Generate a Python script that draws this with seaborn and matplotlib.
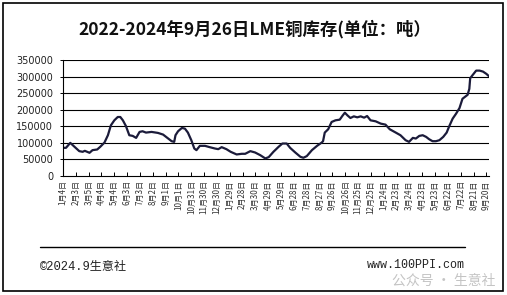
import matplotlib
matplotlib.use("Agg")
import matplotlib.pyplot as plt
from matplotlib.patches import Rectangle
from matplotlib.lines import Line2D
import seaborn as sns
import pandas as pd
import numpy as np

# ---- data ----
start_date = "2022-01-04"
days_since_start = [0, 7, 17, 27, 38, 46, 51, 62, 69, 80, 87, 97, 105, 112, 120, 128, 134, 140, 147, 155,
                    163, 171, 179, 186, 194, 207, 222, 234, 246, 254, 260, 263, 269, 278, 285, 292, 300,
                    307, 312, 320, 332, 343, 355, 363, 371, 382, 392, 406, 418, 426, 438, 449, 461, 473,
                    481, 492, 504, 513, 523, 531, 543, 555, 562, 570, 582, 594, 605, 608, 612, 620, 628,
                    637, 647, 653, 659, 665, 672, 680, 688, 696, 704, 711, 719, 731, 743, 754, 764, 778,
                    789, 801, 809, 818, 825, 833, 841, 849, 856, 864, 872, 880, 889, 897, 903, 911, 919,
                    927, 934, 942, 946, 950, 952, 958, 966, 974, 982, 990, 996]
stock_tons = [85000, 85000, 100000, 88000, 75000, 73000, 76000, 70000, 78000, 80000, 88000, 101000, 123000,
              153000, 168000, 178000, 178000, 168000, 151000, 123000, 121000, 115000, 133000, 135000, 131000,
              133000, 130000, 125000, 113000, 105000, 103000, 123000, 135000, 145000, 143000, 131000, 108000,
              83000, 78000, 91000, 91000, 87000, 83000, 81000, 87000, 81000, 73000, 65000, 67000, 67000,
              75000, 71000, 63000, 53000, 57000, 73000, 88000, 98000, 98000, 85000, 71000, 58000, 55000,
              60000, 78000, 91000, 101000, 105000, 131000, 141000, 163000, 168000, 170000, 181000, 191000,
              183000, 175000, 180000, 177000, 180000, 176000, 181000, 168000, 165000, 158000, 155000, 141000,
              131000, 123000, 108000, 103000, 115000, 113000, 121000, 123000, 118000, 111000, 105000, 105000,
              108000, 118000, 131000, 150000, 173000, 188000, 205000, 233000, 241000, 245000, 263000, 295000,
              305000, 318000, 318000, 315000, 308000, 301000]

x_tick_labels = ["1月4日", "2月3日", "3月5日", "4月4日", "5月4日", "6月3日", "7月3日", "8月2日", "9月1日",
                 "10月1日", "10月31日", "11月30日", "12月30日", "1月29日", "2月28日", "3月30日", "4月29日",
                 "5月29日", "6月28日", "7月28日", "8月27日", "9月26日", "10月26日", "11月25日", "12月25日",
                 "1月24日", "2月23日", "3月24日", "4月23日", "5月23日", "6月22日", "7月22日", "8月21日",
                 "9月20日"]
y_ticks = [0, 50000, 100000, 150000, 200000, 250000, 300000, 350000]
y_tick_labels = ["0", "50000", "100000", "150000", "200000", "250000", "300000", "350000"]

title = "2022-2024年9月26日LME铜库存(单位：吨）"
footer_left = "©2024.9生意社"
footer_right = "www.100PPI.com"
watermark = "公众号 · 生意社"

# ---- build ----
start = pd.Timestamp(start_date)
df = pd.DataFrame({
    "date": start + pd.to_timedelta(days_since_start, unit="D"),
    "stock": stock_tons,
})
tick_dates = [start + pd.Timedelta(days=30 * i) for i in range(len(x_tick_labels))]

sns.set_theme(style="white")
plt.rcParams["font.family"] = ["Noto Sans CJK SC", "DejaVu Sans"]

W, H = 507, 295
fig = plt.figure(figsize=(W / 100, H / 100), dpi=100)
fig.patch.set_facecolor("white")

L, R, T, B = 63, 489, 60, 176
ax = fig.add_axes([L / W, 1 - B / H, (R - L) / W, (B - T) / H])

sns.lineplot(data=df, x="date", y="stock", ax=ax, color="#1b1b3a", linewidth=1.6)

ax.set_xlim(start, df["date"].iloc[-1])
ax.set_ylim(0, 350000)
ax.set_yticks(y_ticks)
ax.set_yticklabels(y_tick_labels, family="DejaVu Sans", fontsize=7, color="#222222")
ax.set_xticks(tick_dates)
ax.set_xticklabels(x_tick_labels, rotation=90, fontsize=5.8, color="#333333")
ax.set_xlabel("")
ax.set_ylabel("")

for y in y_ticks[1:]:
    ax.axhline(y, color="black", linewidth=0.8, zorder=0)

for side in ["top", "right"]:
    ax.spines[side].set_visible(False)
ax.spines["left"].set_color("black")
ax.spines["left"].set_linewidth(0.8)
ax.spines["bottom"].set_color("black")
ax.spines["bottom"].set_linewidth(0.8)
ax.tick_params(axis="x", direction="in", length=3, width=0.7, color="black", pad=3, bottom=True)
ax.tick_params(axis="y", direction="out", length=2, width=0.7, color="black", pad=5, left=True)
ax.grid(False)

fig.text(0.503, 1 - 29 / H, title, ha="center", va="center", fontsize=12.5, fontweight="bold",
         color="#111111")

fig.add_artist(Line2D([40 / W, 465 / W], [1 - 247 / H] * 2, transform=fig.transFigure,
                      color="black", linewidth=1.0))

fig.text(40 / W, 1 - 267 / H, footer_left, ha="left", va="center", fontsize=8.7,
         family=["Liberation Mono", "Noto Sans CJK SC"], color="#222222")
fig.text(465 / W, 1 - 265 / H, footer_right, ha="right", va="center", fontsize=8.4,
         family=["Liberation Mono", "DejaVu Sans Mono"], color="#222222")
fig.text(495 / W, 1 - 281 / H, watermark, ha="right", va="center", fontsize=10,
         color="#c4c4c4")

fig.add_artist(Rectangle((3 / W, 1 - 291 / H), 500 / W, 288 / H, transform=fig.transFigure,
                         fill=False, edgecolor="black", linewidth=1.2))

fig.savefig("out.png", dpi=100)
